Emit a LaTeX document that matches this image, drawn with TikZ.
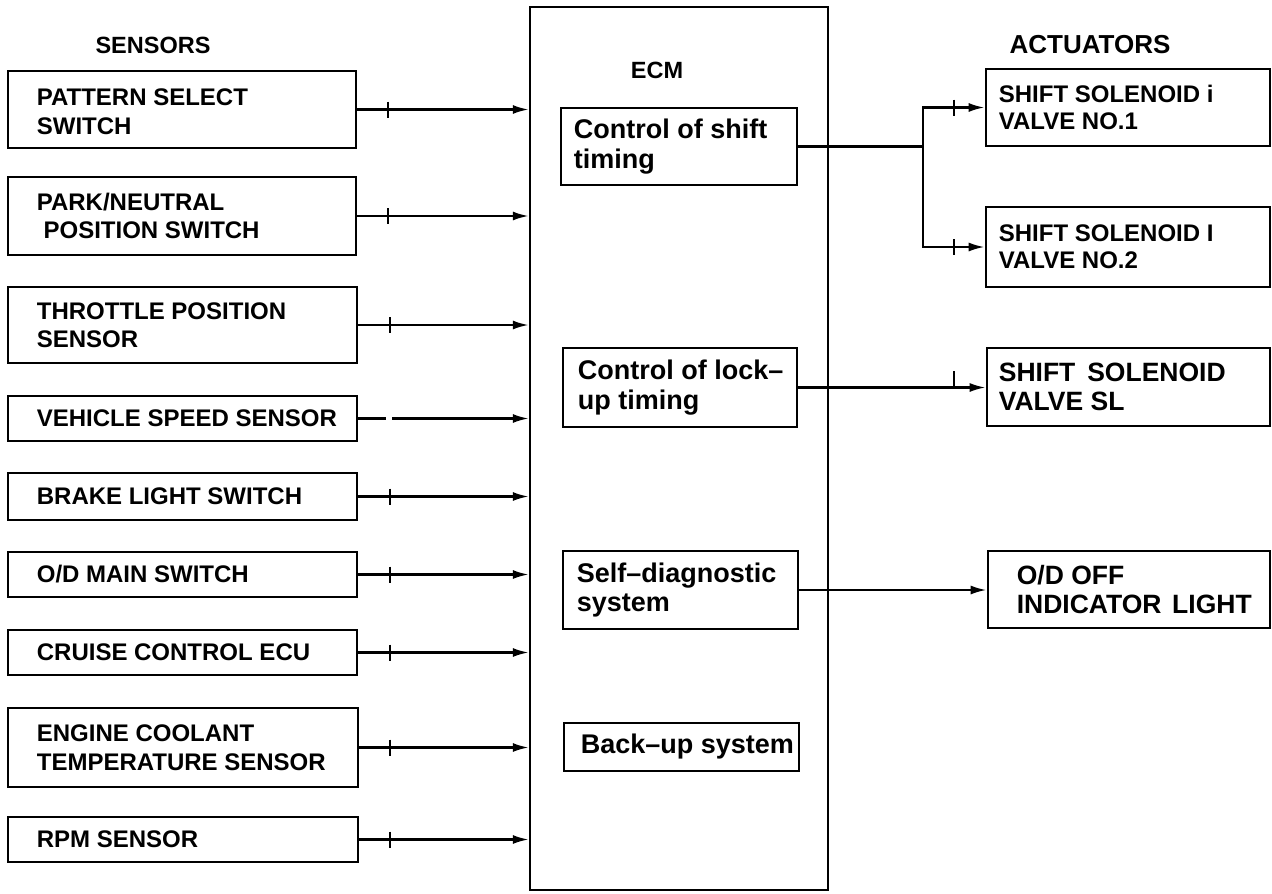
\documentclass[tikz,border=0pt]{standalone}
\usepackage{fontspec}
\setmainfont{Liberation Sans}
\usetikzlibrary{arrows.meta,fit}

% font sizes for the different groups of labels
\newcommand\fsens{\fontsize{24}{28.5}\selectfont\bfseries}
\newcommand\ftitle{\fontsize{23.5}{28}\selectfont\bfseries}
\newcommand\finner{\fontsize{27}{29.5}\selectfont\bfseries}
\newcommand\facta{\fontsize{24}{27}\selectfont\bfseries}
\newcommand\factb{\fontsize{26.5}{29.5}\selectfont\bfseries}

\begin{document}
\begin{tikzpicture}[x=1pt,y=-1pt,
  boxst/.style={draw, line width=2.7pt, inner sep=0pt},
  ecmst/.style={draw, line width=2.3pt, inner sep=0pt},
  txt/.style={anchor=west, align=left, inner sep=0pt},
  conn/.style={line width=2.3pt},
  arr/.style={conn, -{Latex[length=16pt,width=9pt]}},
  tickmark/.style={line width=2.2pt},
  title/.style={inner sep=0pt, font=\ftitle}]

\fill[white] (0,0) rectangle (1272,894);
\useasboundingbox (0,0) rectangle (1272,894);

% ---------- headings ----------
\node[title] (hsens) at (153,45) {SENSORS};
\node[title, font=\fontsize{26}{30}\selectfont\bfseries] (hact) at (1090,45) {ACTUATORS};

% ---------- ECM ----------
\node[ecmst, fit={(530,7)(828,890)}] (ecm) {};
\node[title] (ecmlbl) at (657,70) {ECM};

\node[boxst, fit={(561,108)(797,185)}] (c1) {};
\node[txt, font=\finner] (c1t) at ([xshift=14pt]c1.west) {Control of shift\\timing};
\node[boxst, fit={(563,348)(797,427)}] (c2) {};
\node[txt, font=\finner] (c2t) at ([xshift=16pt]c2.west) {Control of lock–\\up timing};
\node[boxst, fit={(563,551)(798,629)}] (c3) {};
\node[txt, font=\finner] (c3t) at ([xshift=15pt]c3.west) {Self–diagnostic\\system};
\node[boxst, fit={(564,723)(799,771)}] (c4) {};
\node[txt, font=\finner] (c4t) at ([xshift=18pt]c4.west) {Back–up system};

% ---------- sensors ----------
\node[boxst, fit={(8,71)(356,148)}] (s1) {};
\node[txt, font=\fsens] (s1t) at ([xshift=30pt,yshift=-2pt]s1.west) {PATTERN SELECT\\SWITCH};
\node[boxst, fit={(8,177)(356,255)}] (s2) {};
\node[txt, font=\fsens] (s2t) at ([xshift=30pt]s2.west) {PARK/NEUTRAL\\\hspace*{0.28em}POSITION SWITCH};
\node[boxst, fit={(8,287)(357,363)}] (s3) {};
\node[txt, font=\fsens] (s3t) at ([xshift=30pt]s3.west) {THROTTLE POSITION\\SENSOR};
\node[boxst, fit={(8,396)(357,441)}] (s4) {};
\node[txt, font=\fsens] (s4t) at ([xshift=30pt]s4.west) {VEHICLE SPEED SENSOR};
\node[boxst, fit={(8,473)(357,520)}] (s5) {};
\node[txt, font=\fsens] (s5t) at ([xshift=30pt]s5.west) {BRAKE LIGHT SWITCH};
\node[boxst, fit={(8,552)(357,597)}] (s6) {};
\node[txt, font=\fsens] (s6t) at ([xshift=30pt]s6.west) {O/D MAIN SWITCH};
\node[boxst, fit={(8,630)(357,675)}] (s7) {};
\node[txt, font=\fsens] (s7t) at ([xshift=30pt]s7.west) {CRUISE CONTROL ECU};
\node[boxst, fit={(8,708)(358,787)}] (s8) {};
\node[txt, font=\fsens] (s8t) at ([xshift=30pt]s8.west) {ENGINE COOLANT\\TEMPERATURE SENSOR};
\node[boxst, fit={(8,817)(358,862)}] (s9) {};
\node[txt, font=\fsens] (s9t) at ([xshift=30pt]s9.west) {RPM SENSOR};

% ---------- actuators ----------
\node[boxst, fit={(986,69)(1270,146)}] (a1) {};
\node[txt, font=\facta] (a1t) at ([xshift=14pt]a1.west) {SHIFT SOLENOID i\\VALVE NO.1};
\node[boxst, fit={(986,207)(1270,287)}] (a2) {};
\node[txt, font=\facta] (a2t) at ([xshift=14pt]a2.west) {SHIFT SOLENOID I\\VALVE NO.2};
\node[boxst, fit={(987,348)(1270,426)}] (a3) {};
\node[txt, font=\factb] (a3t) at ([xshift=13pt]a3.west) {SHIFT\hspace{0.45em}SOLENOID\\VALVE SL};
\node[boxst, fit={(988,551)(1270,628)}] (a4) {};
\node[txt, font=\factb] (a4t) at ([xshift=30pt]a4.west) {O/D OFF\\INDICATOR\hspace{0.4em}LIGHT};

% ---------- sensor inputs to the ECM ----------
\foreach \s in {s1,s2,s3,s5,s6,s7,s8,s9}
  \draw[arr] (\s.east) -- (\s.east -| ecm.west);
\draw[conn] (s4.east) -- ++(28,0);
\draw[arr] ([xshift=34pt]s4.east) -- (s4.east -| ecm.west);

\foreach \s in {s1,s2}
  \draw[tickmark] ([xshift=31pt]\s.east) ++(0,-8) -- ++(0,16);
\foreach \s in {s3,s5,s6,s7}
  \draw[tickmark] ([xshift=32pt]\s.east) ++(0,-8) -- ++(0,16);
\foreach \s in {s8,s9}
  \draw[tickmark] ([xshift=31pt]\s.east) ++(0,-8) -- ++(0,16);

% ---------- ECM outputs to the actuators ----------
\coordinate (brx) at (923,0);
\coordinate (br) at (c1.east -| brx);
\draw[conn] (c1.east) -- (br);
\draw[arr] (br) |- (a1.west);
\draw[arr] (br) |- (a2.west);
\draw[tickmark] ([xshift=-31pt]a1.west) ++(0,-8) -- ++(0,16);
\draw[tickmark] ([xshift=-31pt]a2.west) ++(0,-8) -- ++(0,16);

\draw[arr] (c2.east) -- (c2.east -| a3.west);
\draw[tickmark] ([xshift=-32pt]a3.west) -- ++(0,-16);

\draw[arr] (c3.east) -- (c3.east -| a4.west);
\end{tikzpicture}
\end{document}
